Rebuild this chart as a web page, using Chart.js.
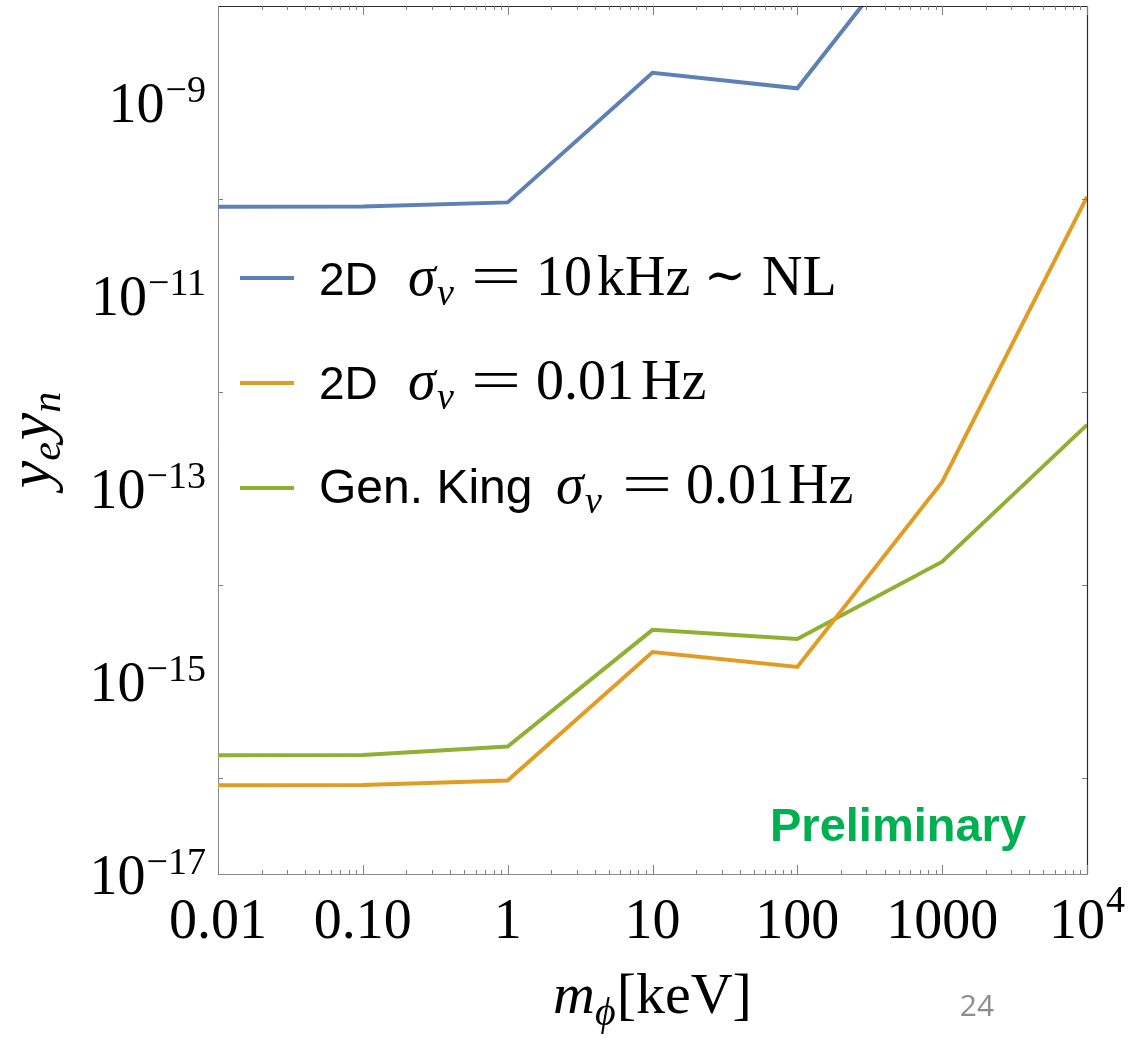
<!DOCTYPE html>
<html><head><meta charset="utf-8">
<script src="https://cdn.jsdelivr.net/npm/chart.js@4.4.0/dist/chart.umd.min.js"></script>
<style>html,body{margin:0;padding:0;background:#fff}#wrap{width:1148px;height:1040px;position:relative}</style>
</head><body><div id="wrap"><canvas id="c"></canvas></div>
<script>
// ---- data ----
const massKeV = [0.01, 0.1, 1, 10, 100, 1000, 10000];
const blue2D10kHz = [8.3e-11, 8.35e-11, 9.2e-11, 2.03e-9, 1.40e-9, 1.16e-7, 1.05e-4];
const orange2D001Hz = [8.3e-17, 8.35e-17, 9.3e-17, 2.0e-15, 1.40e-15, 1.16e-13, 1.05e-10];
const greenGenKing001Hz = [1.70e-16, 1.71e-16, 2.10e-16, 3.40e-15, 2.73e-15, 1.73e-14, 4.54e-13];
const seriesNames = ["2D σν = 10 kHz ∼ NL", "2D σν = 0.01 Hz", "Gen. King σν = 0.01 Hz"];
const seriesColors = ['#5E81B5', '#E19C24', '#8FB032'];
const xTickValues = [0.01, 0.1, 1, 10, 100, 1000, 10000];
const xTickLabels = [["0.01"], ["0.10"], ["1"], ["10"], ["100"], ["1000"], ["10", "4"]];
const yLabelExponents = [-9, -11, -13, -15, -17];
const yMinorExponents = [-10, -12, -14, -16];

const SERIF = '"Liberation Serif", "Times New Roman", serif';
const SANS = '"Liberation Sans", Arial, sans-serif';

function pts(ys) { return massKeV.map((x, i) => ({x: x, y: ys[i]})); }

function drawRuns(ctx, runs, x, y, align) {
  let total = 0;
  runs.forEach(r => { ctx.font = r.f; r.w = ctx.measureText(r.t).width; total += r.w + (r.dx || 0); });
  let cx = align === 'right' ? x - total : (align === 'center' ? x - total / 2 : x);
  ctx.textAlign = 'left'; ctx.textBaseline = 'alphabetic';
  runs.forEach(r => { cx += (r.dx || 0); ctx.font = r.f; ctx.fillText(r.t, cx, y + (r.dy || 0)); cx += r.w; });
}
function at(ctx, t, f, x, y, align) {
  ctx.font = f; ctx.textAlign = align || 'left'; ctx.textBaseline = 'alphabetic'; ctx.fillText(t, x, y);
}
function atScaled(ctx, t, f, cx, y, sx) {
  ctx.save(); ctx.translate(cx, y); ctx.scale(sx, 1);
  ctx.font = f; ctx.textAlign = 'center'; ctx.textBaseline = 'alphabetic'; ctx.fillText(t, 0, 0);
  ctx.restore();
}

const decor = {
  id: 'decor',
  afterDraw(chart) {
    const ctx = chart.ctx, a = chart.chartArea;
    const xs = chart.scales.x, ys = chart.scales.y;
    ctx.save();
    // frame top/right
    ctx.strokeStyle = '#2a2a2a'; ctx.lineWidth = 1.2;
    ctx.beginPath(); ctx.moveTo(a.left, a.top + 0.5); ctx.lineTo(a.right + 0.5, a.top + 0.5); ctx.lineTo(a.right + 0.5, a.bottom); ctx.stroke();
    // ticks
    ctx.strokeStyle = '#808080'; ctx.lineWidth = 1;
    ctx.beginPath();
    for (let d = -2; d <= 4; d++) {
      for (let k = 1; k <= 9; k++) {
        const v = k * Math.pow(10, d);
        if (v < 0.01 || v > 10000) continue;
        const px = Math.round(xs.getPixelForValue(v)) + 0.5;
        const len = k === 1 ? 9 : 4;
        ctx.moveTo(px, a.bottom); ctx.lineTo(px, a.bottom - len);
        ctx.moveTo(px, a.top); ctx.lineTo(px, a.top + len);
      }
    }
    yMinorExponents.forEach(e => {
      const py = Math.round(ys.getPixelForValue(Math.pow(10, e))) + 0.5;
      ctx.moveTo(a.left, py); ctx.lineTo(a.left + 5, py);
      ctx.moveTo(a.right, py); ctx.lineTo(a.right - 5, py);
    });
    ctx.stroke();
    // tick labels
    ctx.fillStyle = '#000';
    yLabelExponents.forEach(e => {
      const py = ys.getPixelForValue(Math.pow(10, e));
      drawRuns(ctx, [{t: '10', f: '56px ' + SERIF}, {t: '\u2212' + Math.abs(e), f: '38px ' + SERIF, dy: -20, dx: 1}], 206, py + 20, 'right');
    });
    xTickValues.forEach((v, i) => {
      const px = xs.getPixelForValue(v);
      const lab = xTickLabels[i];
      const runs = [{t: lab[0], f: '56px ' + SERIF}];
      if (lab[1]) runs.push({t: lab[1], f: '38px ' + SERIF, dy: -26, dx: 1});
      drawRuns(ctx, runs, px, 938, 'center');
    });
    // axis titles
    drawRuns(ctx, [{t: 'm', f: 'italic 58px ' + SERIF}, {t: '\u03D5', f: 'italic 40px ' + SERIF, dy: 12}, {t: '[keV]', f: '58px ' + SERIF, dx: 1}], (a.left + a.right) / 2, 1013, 'center');
    ctx.save();
    ctx.translate(50, (a.top + a.bottom) / 2);
    ctx.rotate(-Math.PI / 2);
    drawRuns(ctx, [{t: 'y', f: 'italic 62px ' + SERIF}, {t: 'e', f: 'italic 42px ' + SERIF, dy: 10}, {t: 'y', f: 'italic 62px ' + SERIF, dx: 2}, {t: 'n', f: 'italic 42px ' + SERIF, dy: 10}], 0, 0, 'center');
    ctx.restore();
    // legend
    const lineY = [278, 383, 488], base = [295, 399, 503];
    for (let i = 0; i < 3; i++) {
      ctx.strokeStyle = seriesColors[i]; ctx.lineWidth = 4; ctx.lineCap = 'butt';
      ctx.beginPath(); ctx.moveTo(240, lineY[i]); ctx.lineTo(294, lineY[i]); ctx.stroke();
    }
    ctx.fillStyle = '#000';
    const M = '56px ' + SERIF, MI = 'italic 56px ' + SERIF, MS = 'italic 38px ' + SERIF, T = '46px ' + SANS;
    // row 1
    at(ctx, '2D', T, 319, base[0]);
    at(ctx, 'σ', MI, 408, base[0]); at(ctx, 'ν', MS, 437, base[0] + 10);
    atScaled(ctx, '=', M, 496, base[0], 1.6);
    at(ctx, '10', M, 536, base[0]); at(ctx, 'kHz', M, 597, base[0]);
    atScaled(ctx, '\u223C', '50px "DejaVu Serif", serif', 725, base[0] - 3, 1.0);
    at(ctx, 'NL', M, 762, base[0]);
    // row 2
    at(ctx, '2D', T, 319, base[1]);
    at(ctx, 'σ', MI, 408, base[1]); at(ctx, 'ν', MS, 437, base[1] + 10);
    atScaled(ctx, '=', M, 496, base[1], 1.6);
    at(ctx, '0.01', M, 536, base[1]); at(ctx, 'Hz', M, 641, base[1]);
    // row 3
    at(ctx, 'Gen. King', '48px ' + SANS, 319, base[2]);
    at(ctx, 'σ', MI, 556, base[2]); at(ctx, 'ν', MS, 585, base[2] + 10);
    atScaled(ctx, '=', M, 647, base[2], 1.6);
    at(ctx, '0.01', M, 686, base[2]); at(ctx, 'Hz', M, 788, base[2]);
    // Preliminary
    ctx.fillStyle = '#00B050';
    at(ctx, 'Preliminary', 'bold 47px ' + SANS, 770, 841);
    // page number
    ctx.fillStyle = '#8c8c8c';
    at(ctx, '24', '30px "Open Sans", sans-serif', 977, 1016, 'center');
    ctx.restore();
  }
};

new Chart(document.getElementById('c'), {
  type: 'line',
  data: {
    datasets: [blue2D10kHz, orange2D001Hz, greenGenKing001Hz].map((ys, i) => ({
      label: seriesNames[i], data: pts(ys), borderColor: seriesColors[i], backgroundColor: seriesColors[i],
      borderWidth: 4, pointRadius: 0, tension: 0, fill: false, clip: 0
    }))
  },
  options: {
    responsive: true, maintainAspectRatio: false, animation: false,
    layout: {padding: {left: 218, right: 61, top: 6, bottom: 166}},
    plugins: {legend: {display: false}, tooltip: {enabled: false}},
    scales: {
      x: {type: 'logarithmic', min: 0.01, max: 10000, grid: {display: false}, ticks: {display: false},
          border: {display: true, color: '#8a8a8a', width: 1}, afterFit(s) { s.height = 0; }},
      y: {type: 'logarithmic', min: 1e-17, max: 1e-8, grid: {display: false}, ticks: {display: false},
          border: {display: true, color: '#8a8a8a', width: 1}, afterFit(s) { s.width = 0; }}
    }
  },
  plugins: [decor]
});
</script></body></html>
